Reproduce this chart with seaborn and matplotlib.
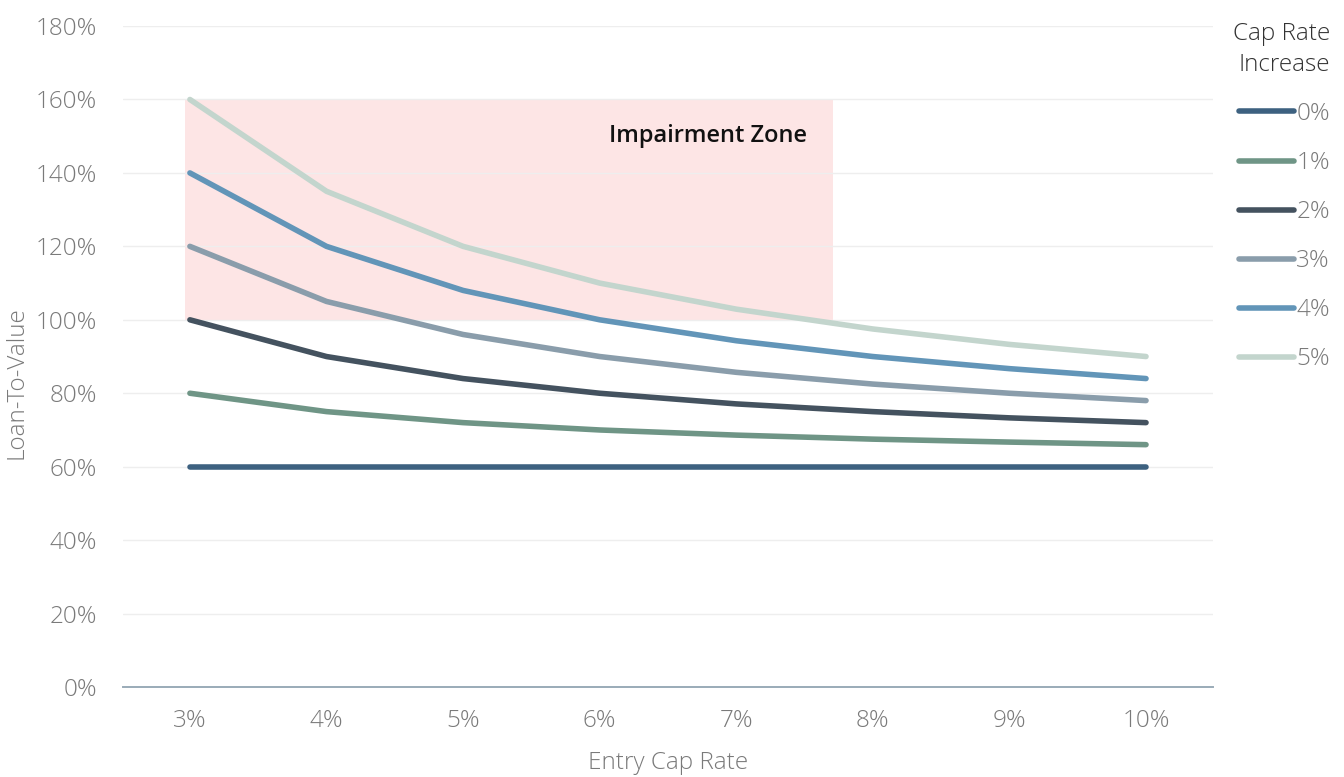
import matplotlib
matplotlib.use("Agg")
import matplotlib.pyplot as plt
import seaborn as sns
import pandas as pd
from matplotlib.ticker import FuncFormatter

# Entry cap rates (%) along the x axis
entry_cap_rate = [3, 4, 5, 6, 7, 8, 9, 10]

# Loan-to-value (%) for each cap rate increase scenario
ltv_0 = [60, 60, 60, 60, 60, 60, 60, 60]
ltv_1 = [80, 75, 72, 70, 68.6, 67.5, 66.7, 66]
ltv_2 = [100, 90, 84, 80, 77.1, 75, 73.3, 72]
ltv_3 = [120, 105, 96, 90, 85.7, 82.5, 80, 78]
ltv_4 = [140, 120, 108, 100, 94.3, 90, 86.7, 84]
ltv_5 = [160, 135, 120, 110, 102.9, 97.5, 93.3, 90]

increase_labels = ["0%", "1%", "2%", "3%", "4%", "5%"]
series = [ltv_0, ltv_1, ltv_2, ltv_3, ltv_4, ltv_5]

colors = ["#3d6180", "#6f9586", "#44525f", "#8a9dab", "#6295b8", "#c3d5cd"]

rows = []
for lab, vals in zip(increase_labels, series):
    for x, v in zip(entry_cap_rate, vals):
        rows.append({"Entry Cap Rate": x, "Loan-To-Value": v, "Increase": lab})
df = pd.DataFrame(rows)

sns.set_theme(style="white")
plt.rcParams["font.family"] = ["Open Sans", "DejaVu Sans"]

GRAY = "#7a7a7a"
FS = 17.5

fig = plt.figure(figsize=(13.44, 7.77), dpi=100)
ax = fig.add_axes([0.0915, 0.1158, 0.811, 0.8507])

# Impairment zone shading
ax.fill_between([2.963, 7.71], 100, 160, color="#fde5e5", zorder=0, linewidth=0)
ax.text(6.79, 150, "Impairment Zone", ha="center", va="center",
        fontsize=17, fontweight="semibold", color="#111111", zorder=3)

sns.lineplot(data=df, x="Entry Cap Rate", y="Loan-To-Value", hue="Increase",
             hue_order=increase_labels, palette=colors, linewidth=4.0,
             ax=ax, zorder=2)
for ln in ax.get_lines():
    ln.set_solid_capstyle("round")

ax.set_xlim(2.51, 10.49)
ax.set_ylim(0, 180)
ax.set_xticks(entry_cap_rate)
ax.set_yticks(range(0, 181, 20))
ax.xaxis.set_major_formatter(FuncFormatter(lambda v, p: f"{v:.0f}%"))
ax.yaxis.set_major_formatter(FuncFormatter(lambda v, p: f"{v:.0f}%"))
ax.grid(axis="y", color="#eeeeee", linewidth=1.0, zorder=0)
ax.set_axisbelow(True)

for s in ["top", "right", "left"]:
    ax.spines[s].set_visible(False)
ax.spines["bottom"].set_color("#9aabb8")
ax.spines["bottom"].set_linewidth(1.4)

ax.tick_params(axis="both", length=0, labelsize=FS, labelcolor=GRAY)
ax.tick_params(axis="x", pad=16)
ax.tick_params(axis="y", pad=18.5)
for t in ax.get_xticklabels() + ax.get_yticklabels():
    t.set_fontweight("light")
ax.set_xlabel("Entry Cap Rate", fontsize=FS, color=GRAY, fontweight="light")
ax.set_ylabel("Loan-To-Value", fontsize=FS, color=GRAY, fontweight="light")
ax.xaxis.set_label_coords(0.5, -0.097)
ax.yaxis.set_label_coords(-0.087, 0.461)

handles, labels = ax.get_legend_handles_labels()
if ax.legend_:
    ax.legend_.remove()
leg = fig.legend(handles, labels, title="Cap Rate\nIncrease", loc="upper right",
                 bbox_to_anchor=(0.9896, 0.972), frameon=False, fontsize=FS,
                 title_fontsize=FS, handlelength=2.25, handletextpad=0.1,
                 labelspacing=1.03, alignment="right", labelcolor=GRAY,
                 borderpad=0, borderaxespad=0)
leg.get_title().set_color("#333333")
leg.get_title().set_fontweight("light")
leg.get_title().set_multialignment("right")
leg.get_title().set_linespacing(1.4)
for t in leg.get_texts():
    t.set_fontweight("light")
for h in leg.legend_handles:
    h.set_linewidth(4.0)
    h.set_solid_capstyle("round")

fig.savefig("out.png", dpi=100)
